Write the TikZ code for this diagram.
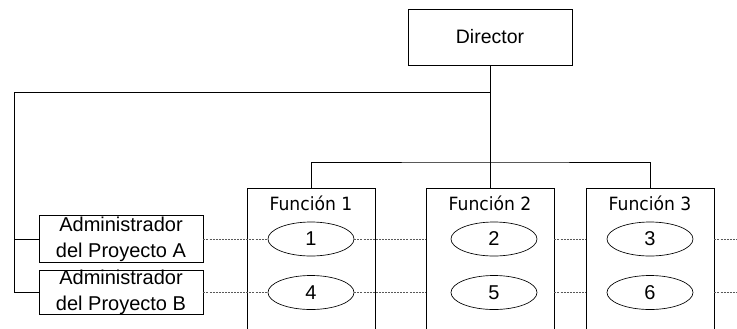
\documentclass[tikz,border=0pt]{standalone}
\usepackage{fontspec}
\setmainfont{Liberation Sans}
\newfontfamily\funcfont[FakeStretch=0.94]{DejaVu Sans}
\usetikzlibrary{shapes.geometric}
\tikzset{
  caja/.style={draw,line width=0.6pt,inner sep=0pt,align=center,
    font=\fontsize{15}{19.3}\selectfont},
  funcbox/.style={draw,line width=0.6pt,inner sep=0pt,
    minimum width=96pt,minimum height=114pt},
  functxt/.style={anchor=base,inner sep=0pt,font=\funcfont\fontsize{13.7}{16}\selectfont},
  tarea/.style={draw,ellipse,line width=0.5pt,inner sep=0pt,
    minimum width=64.5pt,minimum height=25.5pt,font=\fontsize{15}{16}\selectfont},
  punteada/.style={black!65,line width=0.5pt,dash pattern=on 1.5pt off 0.8pt},
  linea/.style={line width=0.7pt}
}

\begin{document}
\begin{tikzpicture}[x=0.75pt,y=-0.75pt]
   \useasboundingbox (0,0) rectangle (737,328);
   \clip (0,0) rectangle (737,328);

   % director y funciones
   \node[caja,minimum width=123pt,minimum height=42pt,font=\fontsize{14.6}{16}\selectfont] (dir) at (490,37) {Director};
   \node[funcbox] (f1) at (311,264) {};
   \node[funcbox] (f2) at (490,264) {};
   \node[funcbox] (f3) at (650,264) {};
   \node[functxt] (f1t) at (311,210) {Función 1};
   \node[functxt] (f2t) at (490,210) {Función 2};
   \node[functxt] (f3t) at (650,210) {Función 3};

   % administradores
   \node[caja,minimum width=123pt,minimum height=35pt] (adA) at (121,239) {Administrador\\del Proyecto A};
   \node[caja,minimum width=123pt,minimum height=33pt] (adB) at (121,292.5) {Administrador\\del Proyecto B};

   % tareas
   \node[tarea] (e1) at (311,239) {1};
   \node[tarea] (e2) at (494,239) {2};
   \node[tarea] (e3) at (650,239) {3};
   \node[tarea] (e4) at (311,292.5) {4};
   \node[tarea] (e5) at (494,292.5) {5};
   \node[tarea] (e6) at (650,292.5) {6};

   \coordinate (izq) at (14.3,92);
   \coordinate (bus) at (490,162);
   \coordinate (finA) at (737,239);
   \coordinate (finB) at (737,292.5);

   % lineas de mando
   \draw[linea] (dir.south) -- (f2.north);
   \draw[linea] (dir.south |- izq) -- (izq) |- (adB.west);
   \draw[linea] (izq |- adA.west) -- (adA.west);
   \draw[linea] (f1.north) |- (bus) -| (f3.north);

   % lineas de proyecto
   \draw[punteada] (adA.east) -- (e1.west);
   \draw[punteada] (e1.east) -- (e1.east -| f2.west);
   \draw[punteada] (e2.east -| f2.east) -- (e3.west -| f3.west);
   \draw[punteada] (e3.east -| f3.east) -- (finA);
   \draw[punteada] (adB.east) -- (e4.west);
   \draw[punteada] (e4.east) -- (e4.east -| f2.west);
   \draw[punteada] (e5.east -| f2.east) -- (e6.west -| f3.west);
   \draw[punteada] (e6.east -| f3.east) -- (finB);
\end{tikzpicture}
\end{document}
